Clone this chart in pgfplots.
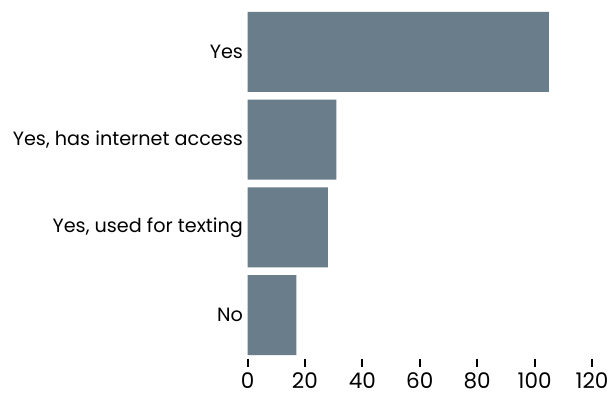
\documentclass[border=0pt]{standalone}
\usepackage{fontspec}
\setmainfont{Poppins}
\usepackage{pgfplots}
\pgfplotsset{compat=1.18}
\definecolor{barc}{HTML}{6A7D8A}
\begin{document}
\begin{tikzpicture}
\path[use as bounding box] (0,0) rectangle (612pt,395pt);
\begin{axis}[
  at={(247.5pt,36pt)}, anchor=south west,
  width=344.5pt, height=351pt, scale only axis,
  clip=false,
  xmin=0, xmax=120, ymin=-0.5, ymax=3.5,
  xtick={0,20,...,120},
  ytick={0,1,2,3},
  yticklabels={No,{Yes, used for texting},{Yes, has internet access},Yes},
  axis x line*=bottom, axis y line*=left,
  x axis line style={draw=none},
  y axis line style={draw=none},
  tick style={draw=none},
  xticklabel style={font=\fontsize{21.5}{24}\selectfont, text=black, yshift=-10pt},
  yticklabel style={font=\fontsize{19.2}{22}\selectfont, text=black, xshift=-1pt},
  /pgf/number format/assume math mode=true,
]
\addplot[xbar, bar width=0.91, bar shift=0pt, fill=barc, draw=none] coordinates {(17,0) (28,1) (31,2) (105,3)};
\addplot[draw=black, line width=2pt, mark=none] coordinates {(0,-0.5) (0,-0.591)};
\addplot[draw=black, line width=2pt, mark=none] coordinates {(20,-0.5) (20,-0.591)};
\addplot[draw=black, line width=2pt, mark=none] coordinates {(40,-0.5) (40,-0.591)};
\addplot[draw=black, line width=2pt, mark=none] coordinates {(60,-0.5) (60,-0.591)};
\addplot[draw=black, line width=2pt, mark=none] coordinates {(80,-0.5) (80,-0.591)};
\addplot[draw=black, line width=2pt, mark=none] coordinates {(100,-0.5) (100,-0.591)};
\addplot[draw=black, line width=2pt, mark=none] coordinates {(120,-0.5) (120,-0.591)};
\end{axis}
\end{tikzpicture}
\end{document}
